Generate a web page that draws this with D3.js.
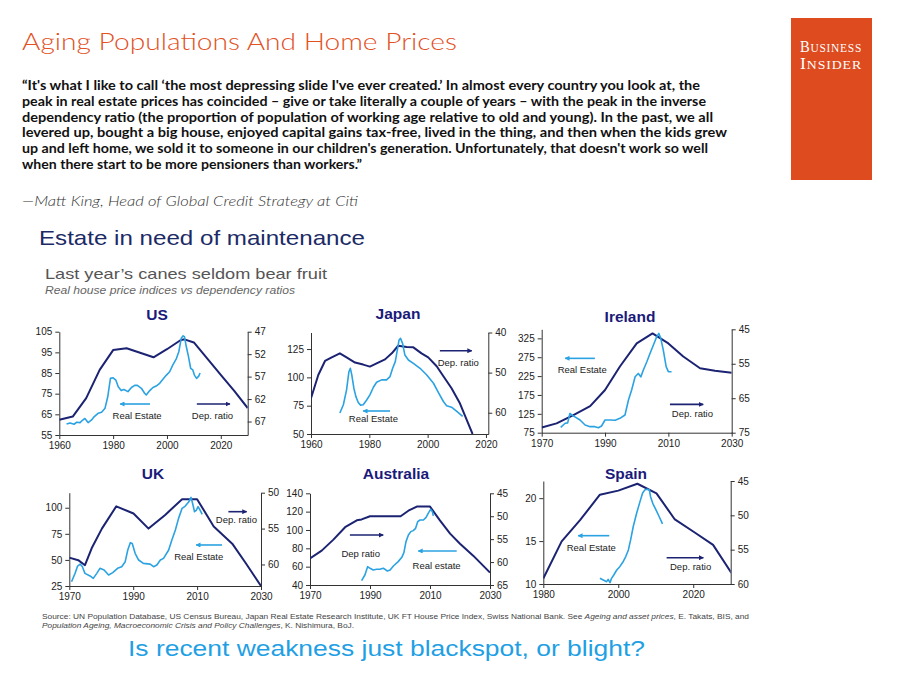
<!DOCTYPE html>
<html><head><meta charset="utf-8">
<script src="https://cdn.jsdelivr.net/npm/d3@7"></script>
<style>body{margin:0;background:#fff;} svg{display:block;}</style>
</head><body>
<script>
// ---------------- DATA ----------------
const usDep = [[1960,66.6],[1965,65.9],[1970,61.8],[1975,55.5],[1980,51.1],[1985,50.7],[1990,51.7],[1995,52.7],[2000,50.9],[2005,48.9],[2006.5,48.7],[2010,49.4],[2015,53.0],[2020,56.6],[2025,60.2],[2030,64.0]];
const usRE = [[1962.7,60.3],[1964,60.8],[1965.5,60.2],[1966.5,61.2],[1967.7,61.0],[1968.5,62.0],[1969.5,63.0],[1970.7,61.0],[1972,62.3],[1973,63.9],[1974.4,65.5],[1975.7,66.0],[1977,68.0],[1978,73.5],[1979,82.4],[1980,82.7],[1981,81.6],[1981.9,78.4],[1983,76.5],[1984,77.0],[1985.5,76.0],[1986.8,78.0],[1988,79.0],[1989,79.0],[1990.5,77.6],[1991.7,75.2],[1992.3,74.4],[1993.6,76.5],[1994.8,78.0],[1996,78.7],[1997.3,80.0],[1998.5,82.0],[1999.8,84.0],[2001,85.6],[2002.2,88.9],[2003.5,92.0],[2004.4,95.3],[2005.3,101.8],[2006,103.0],[2006.5,102.6],[2007.2,97.7],[2008,92.9],[2008.8,87.3],[2009.6,86.5],[2010.2,84.0],[2011,82.4],[2011.8,83.5],[2012.3,85.0]];

const jpDep = [[1960,56.4],[1962.5,50.6],[1964.8,47.1],[1967.1,46.2],[1969.9,45.2],[1972.2,46.2],[1975.1,47.5],[1977.9,48.0],[1980.2,48.5],[1982.5,47.7],[1985.4,46.7],[1987.7,45.2],[1989.9,43.3],[1992.8,43.6],[1995.1,43.7],[1997.9,45.2],[2000.2,46.2],[2003.1,48.4],[2005.4,50.9],[2008.2,53.9],[2011.1,57.7],[2013.4,61.8],[2015.4,65.3]];
const jpRE = [[1969.9,68.5],[1971.1,75.8],[1972.2,89],[1973,105],[1973.5,108],[1974,102],[1974.7,90.4],[1975.4,83],[1976.2,77.8],[1977,75.5],[1977.9,75.8],[1979.1,80],[1980.2,84.6],[1981.4,91.3],[1982.5,95.7],[1984.2,97.8],[1985.9,97.8],[1987.1,100.7],[1988,108],[1988.9,113.9],[1989.6,124],[1990.2,133],[1990.7,134.4],[1991.4,130],[1992.2,119.7],[1993.4,115.3],[1995.1,112.4],[1997.4,108],[1999.7,102.1],[2002,94.8],[2003.7,86.6],[2005.4,78.7],[2006.5,75],[2008.2,73.7],[2010,70],[2012,65.5]];

const ieDep = [[1970,73.5],[1974.7,72.3],[1980,69.9],[1985.3,67.3],[1990,62.6],[1994.7,55.8],[2000,49.1],[2005,46.2],[2010,49.1],[2014.7,52.9],[2020,56.3],[2024.7,57.0],[2030,57.6]];
const ieRE = [[1976,89],[1977.4,100],[1978.2,101],[1978.9,126],[1979.5,122],[1980.5,117],[1982.1,108.6],[1983.7,95.3],[1985.3,91],[1986.8,91],[1987.9,88],[1988.9,92.7],[1990,108.6],[1991.6,108.6],[1993.2,108],[1994.7,113],[1996.3,122],[1997.4,161.6],[1998.4,188],[1999.5,223.4],[2000.5,232],[2001.3,223],[2002.1,241],[2003.2,263],[2004.2,285],[2005.5,312],[2006.3,329],[2007,338],[2007.6,325],[2008.4,294],[2009.3,250],[2010,236.7],[2011,236.7]];

const ukDep = [[1970,59.05],[1972.8,59.4],[1974.9,60.1],[1977,57.75],[1980.2,55],[1984.7,51.9],[1990.1,52.9],[1994.8,55],[2000,53.1],[2005.3,50.9],[2010,50.9],[2015.2,54.7],[2021,57.1],[2025.2,59.8],[2030,63]];
const ukRE = [[1970.7,29.1],[1971.8,37.1],[1972.6,44.1],[1973.4,46],[1974.1,43.5],[1974.9,37.1],[1976.5,34.6],[1977.5,32.3],[1978.6,37.1],[1979.6,41.9],[1980.9,40.3],[1982.3,35.6],[1983.6,37.8],[1985.1,41.9],[1986.4,43.5],[1987.5,48.3],[1988.3,59.5],[1989.1,66.5],[1989.7,65.8],[1990.6,56.3],[1991.7,49.9],[1993.2,46.7],[1995.3,46],[1996.4,43.5],[1997.4,45.1],[1998.5,49.9],[1999.5,51.5],[2001.1,59.5],[2002.1,69],[2003.2,78.6],[2004.2,89.8],[2005.3,99.4],[2006.3,101.6],[2007.4,105.7],[2008.1,109.9],[2008.6,104.1],[2009.2,96.2],[2009.8,97.8],[2010.3,101],[2010.8,98.4],[2011.6,93.6]];

const auDep = [[1970,59.2],[1973.9,57.5],[1977.8,55.1],[1981.7,52.4],[1985.6,50.9],[1987.2,50.7],[1990,50],[1995,50],[2000.2,50],[2002.8,48.8],[2005.6,47.9],[2010,47.9],[2013.3,50.9],[2016.7,53.8],[2020,56],[2024.4,58.6],[2030,62.3]];
const auRE = [[1987.2,44.7],[1988.3,50.9],[1989.2,60],[1990,58.2],[1991.1,56.4],[1992.2,57.1],[1993.3,57.1],[1994.4,58.2],[1995,57.1],[1995.8,55.3],[1996.7,56.4],[1997.8,60.7],[1999.4,65.5],[2000.6,70.2],[2001.3,75.3],[2002,87.3],[2002.8,94.5],[2003.6,98.2],[2004.4,99.3],[2005.2,101.8],[2005.9,109],[2006.7,110.9],[2007.8,110.9],[2008.7,113.8],[2009.4,118.2],[2010.2,122.5],[2010.8,120],[2011.1,115.3]];

const esDep = [[1980,59.2],[1984.9,53.8],[1989.8,50.7],[1995.1,47],[2000,46.4],[2005.1,45.4],[2010.2,46.8],[2015.1,50.6],[2020.4,52.5],[2025.3,54.3],[2030.2,58.4]];
const esRE = [[1995.1,10.66],[1996,10.47],[1996.9,10.27],[1997.3,10.54],[1997.8,10.16],[1998.2,10.66],[1998.8,11.05],[1999.6,11.63],[2000.4,12.02],[2001.3,12.6],[2002,13.2],[2002.7,13.97],[2003.3,15.14],[2004,16.7],[2004.9,18.25],[2005.8,19.6],[2006.5,20.6],[2007.1,20.97],[2007.7,21.05],[2008.3,20.97],[2008.6,20.2],[2009.2,19.4],[2010,18.7],[2010.9,17.86],[2011.8,17]];

// tick labels
const usXTicks=[1960,1980,2000,2020], usLTicks=[55,65,75,85,95,105], usRTicks=[47,52,57,62,67];
const jpXTicks=[1960,1980,2000,2020], jpLTicks=[50,75,100,125], jpRTicks=[40,50,60];
const ieXTicks=[1970,1990,2010,2030], ieLTicks=[75,125,175,225,275,325], ieRTicks=[45,55,65,75];
const ukXTicks=[1970,1990,2010,2030], ukLTicks=[25,50,75,100], ukRTicks=[50,55,60];
const auXTicks=[1970,1990,2010,2030], auLTicks=[40,60,80,100,120,140], auRTicks=[45,50,55,60,65];
const esXTicks=[1980,2000,2020], esLTicks=[10,15,20], esRTicks=[45,50,55,60];

const panelTitles = ["US","Japan","Ireland","UK","Australia","Spain"];

const quoteLines = [
 "\u201CIt's what I like to call \u2018the most depressing slide I've ever created.\u2019 In almost every country you look at, the",
 "peak in real estate prices has coincided \u2013 give or take literally a couple of years \u2013 with the peak in the inverse",
 "dependency ratio (the proportion of population of working age relative to old and young). In the past, we all",
 "levered up, bought a big house, enjoyed capital gains tax-free, lived in the thing, and then when the kids grew",
 "up and left home, we sold it to someone in our children's generation. Unfortunately, that doesn't work so well",
 "when there start to be more pensioners than workers.\u201D"
];

// ---------------- LAYOUT ----------------
const W=900,H=675;
const navy="#1b2372", sky="#2ba2e2", axisCol="#333";
const panels = [
 {name:panelTitles[0], dep:usDep, re:usRE, xT:usXTicks, lT:usLTicks, rT:usRTicks,
  xDom:[1960,2030], lDom:[55,105], rDom:[70,47], box:{x0:59.3,x1:247.7,y0:435,y1:331.7}, tx:157, ty:315,
  notes:[{t:"Real Estate",c:sky,a:[1993.7,1982.6,70],l:[1988.9,64.2]},{t:"Dep. ratio",c:navy,a:[2011.1,2023.4,70],l:[2016.9,64.2]}]},
 {name:panelTitles[1], dep:jpDep, re:jpRE, xT:jpXTicks, lT:jpLTicks, rT:jpRTicks,
  xDom:[1960,2020.8], lDom:[50,139.6], rDom:[65.3,40], box:{x0:311,x1:488.3,y0:434,y1:332.5}, tx:398, ty:314,
  notes:[{t:"Dep. ratio",c:navy,a:[2004.2,2015.1,123.5],l:[2010.5,112.6]},{t:"Real Estate",c:sky,a:[1987.1,1977.9,70.3],l:[1981.4,63.2]}]},
 {name:panelTitles[2], dep:ieDep, re:ieRE, xT:ieXTicks, lT:ieLTicks, rT:ieRTicks,
  xDom:[1970,2030], lDom:[75,349], rDom:[75,45], box:{x0:541.7,x1:731.7,y0:432.7,y1:329.3}, tx:630, ty:317,
  notes:[{t:"Real Estate",c:sky,a:[1986.8,1977.4,272],l:[1982.8,243]},{t:"Dep. ratio",c:navy,a:[2010.5,2021,150],l:[2017.6,126]}]},
 {name:panelTitles[3], dep:ukDep, re:ukRE, xT:ukXTicks, lT:ukLTicks, rT:ukRTicks,
  xDom:[1970,2030], lDom:[25,114.4], rDom:[63,50], box:{x0:69.3,x1:261,y0:586,y1:492.7}, tx:153, ty:474,
  notes:[{t:"Dep. ratio",c:navy,a:[2019.8,2025.5,96.2],l:[2022.3,88.2]},{t:"Real Estate",c:sky,a:[2017.8,2009.7,64.3],l:[2010.5,53.1]}]},
 {name:panelTitles[4], dep:auDep, re:auRE, xT:auXTicks, lT:auLTicks, rT:auRTicks,
  xDom:[1970,2030], lDom:[40,140], rDom:[65,45], box:{x0:310,x1:490,y0:585,y1:493.3}, tx:396, ty:474,
  notes:[{t:"Dep ratio",c:navy,a:[1983.3,1994.4,94.5],l:[1986.9,73.8]},{t:"Real estate",c:sky,a:[2018.9,2006.1,77.1],l:[2012.2,60.7]}]},
 {name:panelTitles[5], dep:esDep, re:esRE, xT:esXTicks, lT:esLTicks, rT:esRTicks,
  xDom:[1980,2030], lDom:[10,22], rDom:[60,45], box:{x0:543.3,x1:730.7,y0:584,y1:481}, tx:626, ty:474,
  notes:[{t:"Real Estate",c:sky,a:[1997.6,1989.3,15.63],l:[1992.8,14.28]},{t:"Dep. ratio",c:navy,a:[2012.9,2022.7,13.06],l:[2019.3,12.0]}]}
];

const svg = d3.select("body").append("svg").attr("width",W).attr("height",H);
const defs = svg.append("defs");
[["arrNavy",navy],["arrSky",sky]].forEach(([id,c])=>{
  defs.append("marker").attr("id",id).attr("viewBox","0 0 8 8").attr("refX",7).attr("refY",4)
   .attr("markerWidth",5).attr("markerHeight",5).attr("orient","auto").attr("markerUnits","userSpaceOnUse")
   .append("path").attr("d","M0,0L8,4L0,8z").attr("fill",c);
});

// ---------- header ----------
svg.append("text").attr("x",22).attr("y",50).text("Aging Populations And Home Prices")
  .attr("font-family","Lato, 'Open Sans', sans-serif").attr("font-weight",300).attr("font-size",24)
  .attr("fill","#e2511f").attr("textLength",435).attr("lengthAdjust","spacingAndGlyphs");

const qWidths=[678,684,691,705,686,340];
const qBase=[90,106,122,137,153,169];
quoteLines.forEach((s,i)=>{
  svg.append("text").attr("x",22).attr("y",qBase[i]).text(s)
   .attr("font-family","Lato, 'Open Sans', sans-serif").attr("font-weight",700).attr("font-size",12.5)
   .attr("fill","#111").attr("textLength",qWidths[i]).attr("lengthAdjust","spacingAndGlyphs");
});
svg.append("text").attr("x",22).attr("y",206).text("\u2014Matt King, Head of Global Credit Strategy at Citi")
  .attr("font-family","Lato, 'Open Sans', sans-serif").attr("font-style","italic").attr("font-weight",300)
  .attr("font-size",13).attr("fill","#333").attr("textLength",336).attr("lengthAdjust","spacingAndGlyphs");

// logo
svg.append("rect").attr("x",791).attr("y",18).attr("width",81).attr("height",162).attr("fill","#dd4b1e");
[["B","USINESS",52],["I","NSIDER",69]].forEach(([a,b,y])=>{
  const t=svg.append("text").attr("x",831).attr("y",y).attr("text-anchor","middle")
   .attr("font-family","'Liberation Serif','DejaVu Serif',serif").attr("fill","#fff").attr("letter-spacing",0.8)
   .attr("textLength",62).attr("lengthAdjust","spacingAndGlyphs");
  t.append("tspan").attr("font-size",16).text(a);
  t.append("tspan").attr("font-size",12.5).text(b);
});

// slide headings
svg.append("text").attr("x",39).attr("y",245).text("Estate in need of maintenance")
  .attr("font-family","Arial, 'Liberation Sans', sans-serif").attr("font-size",21).attr("fill","#1c2a66")
  .attr("textLength",326).attr("lengthAdjust","spacingAndGlyphs");
svg.append("text").attr("x",45).attr("y",279).text("Last year\u2019s canes seldom bear fruit")
  .attr("font-family","Arial, 'Liberation Sans', sans-serif").attr("font-size",14.5).attr("fill","#555")
  .attr("textLength",282).attr("lengthAdjust","spacingAndGlyphs");
svg.append("text").attr("x",45).attr("y",294).text("Real house price indices vs dependency ratios")
  .attr("font-family","Arial, 'Liberation Sans', sans-serif").attr("font-style","italic").attr("font-size",10).attr("fill","#666")
  .attr("textLength",250).attr("lengthAdjust","spacingAndGlyphs");

// ---------- panels ----------
panels.forEach((p,i)=>{
  const b=p.box;
  const x=d3.scaleLinear().domain(p.xDom).range([b.x0,b.x1]);
  const yL=d3.scaleLinear().domain(p.lDom).range([b.y0,b.y1]);
  const yR=d3.scaleLinear().domain(p.rDom).range([b.y0,b.y1]);
  const g=svg.append("g");
  const styleAxis=sel=>{
    sel.attr("font-family","Arial, 'Liberation Sans', sans-serif").attr("font-size",10);
    sel.selectAll("path,line").attr("stroke",axisCol).attr("stroke-width",1);
    sel.selectAll("text").attr("fill","#222");
  };
  g.append("g").attr("transform",`translate(0,${b.y0})`)
   .call(d3.axisBottom(x).tickValues(p.xT).tickFormat(d3.format("d")).tickSize(4).tickSizeOuter(0)).call(styleAxis);
  g.append("g").attr("transform",`translate(${b.x0},0)`)
   .call(d3.axisLeft(yL).tickValues(p.lT).tickSize(4).tickSizeOuter(0)).call(styleAxis);
  g.append("g").attr("transform",`translate(${b.x1},0)`)
   .call(d3.axisRight(yR).tickValues(p.rT).tickSize(4).tickSizeOuter(0)).call(styleAxis);

  const cid="clip"+i;
  defs.append("clipPath").attr("id",cid).append("rect")
   .attr("x",b.x0).attr("y",b.y1-4).attr("width",b.x1-b.x0).attr("height",b.y0-b.y1+4);
  const lg=g.append("g").attr("clip-path",`url(#${cid})`);
  lg.append("path").datum(p.dep).attr("fill","none").attr("stroke",navy).attr("stroke-width",2)
   .attr("stroke-linejoin","round").attr("d",d3.line().x(d=>x(d[0])).y(d=>yR(d[1])));
  lg.append("path").datum(p.re).attr("fill","none").attr("stroke",sky).attr("stroke-width",1.6)
   .attr("stroke-linejoin","round").attr("d",d3.line().x(d=>x(d[0])).y(d=>yL(d[1])));

  g.append("text").attr("x",p.tx).attr("y",p.ty).attr("dy","0.35em").attr("text-anchor","middle")
   .attr("font-family","Arial, 'Liberation Sans', sans-serif").attr("font-weight","bold").attr("font-size",15.5)
   .attr("fill","#1a1a7a").text(p.name);

  p.notes.forEach(n=>{
    g.append("line").attr("x1",x(n.a[0])).attr("x2",x(n.a[1])).attr("y1",yL(n.a[2])).attr("y2",yL(n.a[2]))
     .attr("stroke",n.c).attr("stroke-width",1.6).attr("marker-end",`url(#${n.c===navy?"arrNavy":"arrSky"})`);
    g.append("text").attr("x",x(n.l[0])).attr("y",yL(n.l[1])).attr("dy","0.35em").attr("text-anchor","middle")
     .attr("font-family","Arial, 'Liberation Sans', sans-serif").attr("font-size",9.5).attr("fill","#222").text(n.t);
  });
});

// ---------- source & footer ----------
const src=svg.append("text").attr("x",42).attr("y",619).attr("font-family","Arial, 'Liberation Sans', sans-serif")
  .attr("font-size",7.3).attr("fill","#444").attr("textLength",707).attr("lengthAdjust","spacingAndGlyphs");
src.append("tspan").text("Source: UN Population Database, US Census Bureau, Japan Real Estate Research Institute, UK FT House Price Index, Swiss National Bank. See ");
src.append("tspan").attr("font-style","italic").text("Ageing and asset prices");
src.append("tspan").text(", E. Takats, BIS, and");
const src2=svg.append("text").attr("x",42).attr("y",628).attr("font-family","Arial, 'Liberation Sans', sans-serif")
  .attr("font-size",7.3).attr("fill","#444").attr("textLength",312).attr("lengthAdjust","spacingAndGlyphs");
src2.append("tspan").attr("font-style","italic").text("Population Ageing, Macroeconomic Crisis and Policy Challenges");
src2.append("tspan").text(", K. Nishimura, BoJ.");

svg.append("text").attr("x",128).attr("y",656).text("Is recent weakness just blackspot, or blight?")
  .attr("font-family","Arial, 'Liberation Sans', sans-serif").attr("font-size",22).attr("fill","#1fa0e4")
  .attr("textLength",517).attr("lengthAdjust","spacingAndGlyphs");
</script>
</body></html>
